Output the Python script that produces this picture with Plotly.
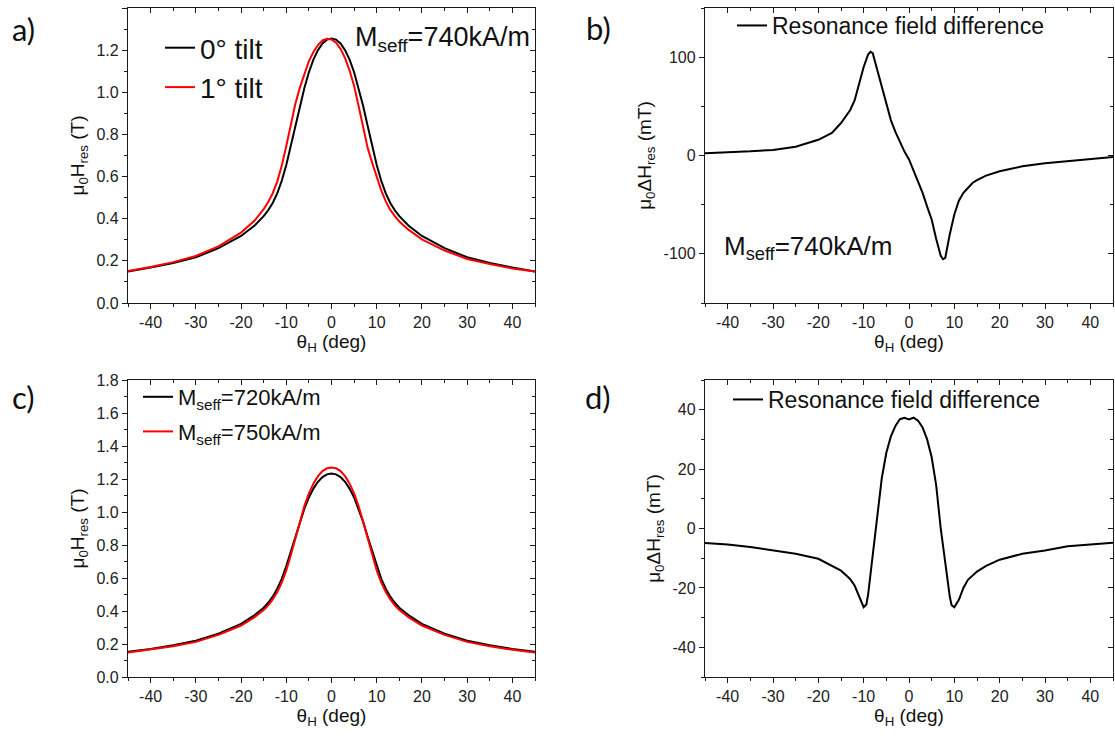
import plotly.graph_objects as go

# ---------------- data ----------------
theta_ac = [-45, -40, -35, -30, -25, -20, -17, -15, -14, -13, -12, -11, -10, -9, -8, -7, -6, -5, -4, -3, -2, -1,
            0, 1, 2, 3, 4, 5, 6, 7, 8, 9, 10, 11, 12, 13, 14, 15, 17, 20, 25, 30, 35, 40, 45]

# panel a: resonance field (T)
h_tilt0 = [0.150, 0.168, 0.190, 0.217, 0.260, 0.318, 0.368, 0.412, 0.440, 0.475, 0.520, 0.580, 0.655, 0.745, 0.840,
           0.935, 1.020, 1.095, 1.155, 1.200, 1.232, 1.250, 1.255, 1.250, 1.232, 1.200, 1.155, 1.095, 1.020, 0.935,
           0.840, 0.745, 0.655, 0.580, 0.520, 0.475, 0.440, 0.412, 0.368, 0.318, 0.260, 0.217, 0.190, 0.168, 0.150]
h_tilt1 = [0.152, 0.171, 0.194, 0.223, 0.269, 0.334, 0.391, 0.445, 0.479, 0.521, 0.576, 0.653, 0.745, 0.848, 0.944,
           1.022, 1.090, 1.148, 1.191, 1.224, 1.246, 1.254, 1.251, 1.235, 1.206, 1.162, 1.103, 1.030, 0.935, 0.833,
           0.736, 0.665, 0.595, 0.534, 0.482, 0.442, 0.412, 0.387, 0.348, 0.302, 0.249, 0.209, 0.185, 0.164, 0.149]

# panel b: resonance field difference (mT)
theta_b = [-45, -40, -35, -30, -25, -20, -17, -15, -14, -13, -12, -11, -10, -9, -8.5, -8, -7, -6, -5, -4, -3, -2, -1,
           0, 1, 2, 3, 4, 5, 6, 7, 7.5, 8, 9, 10, 11, 12, 13, 14, 15, 17, 20, 25, 30, 35, 40, 45]
dh_b = [2.4, 3.0, 4.2, 5.7, 9.0, 16.0, 23.0, 33.0, 39.0, 46.0, 56.0, 73.0, 90.0, 103.0, 105.5, 104.0, 87.0, 70.0,
        53.0, 36.0, 24.0, 14.0, 4.0, -4.0, -15.0, -26.0, -38.0, -52.0, -65.0, -85.0, -102.0, -105.5, -104.0, -80.0,
        -60.0, -46.0, -38.0, -33.0, -28.0, -25.0, -20.5, -16.0, -11.0, -7.8, -5.5, -3.7, -1.5]

# panel c: resonance field (T)
h_m720 = [0.153, 0.170, 0.192, 0.220, 0.263, 0.322, 0.375, 0.420, 0.450, 0.487, 0.535, 0.595, 0.672, 0.760, 0.850,
          0.940, 1.020, 1.088, 1.142, 1.183, 1.212, 1.228, 1.233, 1.228, 1.212, 1.183, 1.142, 1.088, 1.020, 0.940,
          0.850, 0.760, 0.672, 0.595, 0.535, 0.487, 0.450, 0.420, 0.375, 0.322, 0.263, 0.220, 0.192, 0.170, 0.153]
h_m750 = [0.148, 0.165, 0.186, 0.213, 0.255, 0.312, 0.363, 0.406, 0.434, 0.470, 0.515, 0.572, 0.646, 0.738, 0.841,
          0.945, 1.037, 1.113, 1.172, 1.217, 1.248, 1.265, 1.270, 1.265, 1.248, 1.217, 1.172, 1.113, 1.035, 0.940,
          0.838, 0.737, 0.646, 0.572, 0.515, 0.470, 0.434, 0.406, 0.363, 0.312, 0.255, 0.213, 0.186, 0.165, 0.148]

# panel d: resonance field difference (mT)
theta_d = [-45, -40, -35, -30, -25, -20, -17, -15, -14, -13, -12, -11, -10, -9.4, -9, -8, -7, -6, -5, -4, -3, -2, -1,
           0, 1, 2, 3, 4, 5, 6, 7, 8, 9, 9.4, 10, 11, 12, 13, 14, 15, 17, 20, 25, 30, 35, 40, 45]
dh_d = [-4.9, -5.4, -6.2, -7.4, -8.5, -10.2, -12.5, -14.2, -15.6, -17.0, -19.2, -22.6, -26.5, -25.6, -22.0, -9.0,
        5.0, 17.0, 25.5, 31.0, 34.5, 36.8, 37.3, 36.7, 37.3, 36.3, 34.0, 30.0, 24.0, 14.5, 0.0, -12.0, -23.0, -25.8,
        -26.5, -24.0, -20.0, -17.3, -15.8, -14.5, -12.6, -10.5, -8.5, -7.4, -6.0, -5.4, -4.8]

# tick labels (hyphen-minus as in the original figure)
x_tickvals = [-40, -30, -20, -10, 0, 10, 20, 30, 40]
x_ticktext = ["-40", "-30", "-20", "-10", "0", "10", "20", "30", "40"]
y_tickvals = [
    [0.0, 0.2, 0.4, 0.6, 0.8, 1.0, 1.2, 1.4],
    [-100, 0, 100],
    [0.0, 0.2, 0.4, 0.6, 0.8, 1.0, 1.2, 1.4, 1.6, 1.8],
    [-40, -20, 0, 20, 40],
]
y_ticktext = [
    ["0.0", "0.2", "0.4", "0.6", "0.8", "1.0", "1.2", "1.4"],
    ["-100", "0", "100"],
    ["0.0", "0.2", "0.4", "0.6", "0.8", "1.0", "1.2", "1.4", "1.6", "1.8"],
    ["-40", "-20", "0", "20", "40"],
]
x_range = [-45, 45]
y_ranges = [[0, 1.4], [-150, 150], [0, 1.8], [-50, 50]]
y_minor_dticks = [0.1, 50, 0.1, 10]

FONT = "Liberation Sans"
W, H = 1115, 744


def px(x):
    return x / W


def py(y):
    return 1 - y / H


fig = go.Figure()

# ---------------- traces ----------------
fig.add_trace(go.Scatter(x=theta_ac, y=h_tilt0, mode="lines", name="0° tilt", line=dict(color="black", width=2),
                         xaxis="x", yaxis="y", legend="legend", legendgroup="a0"))
fig.add_trace(go.Scatter(x=theta_ac, y=h_tilt1, mode="lines", name="1° tilt", line=dict(color="#ff0000", width=2),
                         xaxis="x", yaxis="y", legend="legend", legendgroup="a1"))
fig.add_trace(go.Scatter(x=theta_b, y=dh_b, mode="lines", name="Resonance field difference",
                         line=dict(color="black", width=2), xaxis="x2", yaxis="y2", legend="legend2"))
fig.add_trace(go.Scatter(x=theta_ac, y=h_m720, mode="lines", name="M<sub>seff</sub>=720kA/m",
                         line=dict(color="black", width=2), xaxis="x3", yaxis="y3", legend="legend3", legendgroup="c0"))
fig.add_trace(go.Scatter(x=theta_ac, y=h_m750, mode="lines", name="M<sub>seff</sub>=750kA/m",
                         line=dict(color="#ff0000", width=2), xaxis="x3", yaxis="y3", legend="legend3", legendgroup="c1"))
fig.add_trace(go.Scatter(x=theta_d, y=dh_d, mode="lines", name="Resonance field difference",
                         line=dict(color="black", width=2), xaxis="x4", yaxis="y4", legend="legend4"))

# invisible traces that activate the top / right tick axes (twin axes)
for k in range(4):
    n = k + 1
    sfx = "" if n == 1 else str(n)
    fig.add_trace(go.Scatter(x=[0], y=[y_ranges[k][0]], xaxis=f"x{n + 4}", yaxis=f"y{sfx}", showlegend=False,
                             hoverinfo="skip", mode="markers", marker=dict(opacity=0, size=1)))
    fig.add_trace(go.Scatter(x=[0], y=[y_ranges[k][0]], xaxis=f"x{sfx}", yaxis=f"y{n + 8}", showlegend=False,
                             hoverinfo="skip", mode="markers", marker=dict(opacity=0, size=1)))

# ---------------- axes ----------------
x_domains = [[px(128), px(535)], [px(705), px(1113)], [px(128), px(535)], [px(705), px(1113)]]
y_domains = [[py(303), py(8)], [py(303), py(8)], [py(677), py(380)], [py(677), py(380)]]

INK = "#1a1a1a"
tickfont = dict(family=FONT, size=16, color="#222222")
titlefont = dict(family=FONT, size=19, color="#111111")
y_titles = ["μ<sub>0</sub>H<sub>res</sub> (T)", "μ<sub>0</sub>ΔH<sub>res</sub> (mT)",
            "μ<sub>0</sub>H<sub>res</sub> (T)", "μ<sub>0</sub>ΔH<sub>res</sub> (mT)"]

layout = {}
for k in range(4):
    n = k + 1
    sfx = "" if n == 1 else str(n)
    layout[f"xaxis{sfx}"] = dict(
        domain=x_domains[k], anchor=f"y{sfx}", range=x_range,
        tickmode="array", tickvals=x_tickvals, ticktext=x_ticktext,
        showline=True, linecolor=INK, linewidth=1.3, mirror=True,
        ticks="outside", ticklen=5, tickwidth=1.2, tickcolor=INK,
        minor=dict(tickmode="linear", dtick=5, tick0=0, ticks="outside", ticklen=3, tickwidth=1.2, tickcolor=INK),
        showgrid=False, zeroline=False, tickfont=tickfont, automargin=False,
        title=dict(text="θ<sub>H</sub> (deg)", font=titlefont, standoff=2))
    layout[f"yaxis{sfx}"] = dict(
        domain=y_domains[k], anchor=f"x{sfx}", range=y_ranges[k],
        tickmode="array", tickvals=y_tickvals[k], ticktext=y_ticktext[k],
        showline=True, linecolor=INK, linewidth=1.3, mirror=True,
        ticks="outside", ticklen=5, tickwidth=1.2, tickcolor=INK,
        minor=dict(tickmode="linear", dtick=y_minor_dticks[k], tick0=0, ticks="outside", ticklen=3,
                   tickwidth=1.2, tickcolor=INK),
        showgrid=False, zeroline=False, tickfont=tickfont, automargin=False,
        title=dict(text=y_titles[k], font=titlefont, standoff=6))
    # top / right axes with inward ticks
    layout[f"xaxis{n + 4}"] = dict(
        overlaying=f"x{sfx}", anchor=f"y{sfx}", side="top", range=x_range,
        tickmode="array", tickvals=x_tickvals,
        showline=True, linecolor=INK, linewidth=1.3, mirror=True,
        ticks="inside", ticklen=5, tickwidth=1.2, tickcolor=INK,
        minor=dict(tickmode="linear", dtick=5, tick0=0, ticks="inside", ticklen=3, tickwidth=1.2, tickcolor=INK),
        showticklabels=False, showgrid=False, zeroline=False, automargin=False)
    layout[f"yaxis{n + 8}"] = dict(
        overlaying=f"y{sfx}", anchor=f"x{sfx}", side="right", range=y_ranges[k],
        tickmode="array", tickvals=y_tickvals[k],
        showline=True, linecolor=INK, linewidth=1.3, mirror=True,
        ticks="inside", ticklen=5, tickwidth=1.2, tickcolor=INK,
        minor=dict(tickmode="linear", dtick=y_minor_dticks[k], tick0=0, ticks="inside", ticklen=3,
                   tickwidth=1.2, tickcolor=INK),
        showticklabels=False, showgrid=False, zeroline=False, automargin=False)

legend_common = dict(bgcolor="rgba(0,0,0,0)", borderwidth=0, xanchor="left", yanchor="top",
                     traceorder="grouped", itemwidth=30)
layout["legend"] = dict(legend_common, x=px(160), y=py(23), tracegroupgap=0,
                        font=dict(family=FONT, size=28, color="#111111"))
layout["legend2"] = dict(legend_common, x=px(732), y=py(4),
                         font=dict(family=FONT, size=23, color="#111111"))
layout["legend3"] = dict(legend_common, x=px(138), y=py(376), tracegroupgap=3,
                         font=dict(family=FONT, size=22, color="#111111"))
layout["legend4"] = dict(legend_common, x=px(728), y=py(378),
                         font=dict(family=FONT, size=23, color="#111111"))

fig.update_layout(**layout)

# ---------------- annotations ----------------
label_font = dict(family="Lato", size=31, color="#111111")
annotations = [
    dict(text="M<sub>seff</sub>=740kA/m", x=px(442), y=py(39), xref="paper", yref="paper",
         showarrow=False, font=dict(family=FONT, size=27, color="#111111"), xanchor="center", yanchor="middle"),
    dict(text="M<sub>seff</sub>=740kA/m", x=px(808), y=py(247), xref="paper", yref="paper",
         showarrow=False, font=dict(family=FONT, size=26, color="#111111"), xanchor="center", yanchor="middle"),
    dict(text="a)", x=px(23), y=py(29), xref="paper", yref="paper", showarrow=False, font=label_font,
         xanchor="center", yanchor="middle"),
    dict(text="b)", x=px(598), y=py(28), xref="paper", yref="paper", showarrow=False, font=label_font,
         xanchor="center", yanchor="middle"),
    dict(text="c)", x=px(23), y=py(397), xref="paper", yref="paper", showarrow=False, font=label_font,
         xanchor="center", yanchor="middle"),
    dict(text="d)", x=px(598), y=py(397), xref="paper", yref="paper", showarrow=False, font=label_font,
         xanchor="center", yanchor="middle"),
]

fig.update_layout(
    width=W, height=H, margin=dict(l=0, r=0, t=0, b=0),
    paper_bgcolor="white", plot_bgcolor="white",
    annotations=annotations, showlegend=True,
    font=dict(family=FONT, color="#111111"),
)

fig.write_html("out.html", config={"displayModeBar": False},
               post_script="document.body.style.margin='0';document.body.style.overflow='hidden';")
